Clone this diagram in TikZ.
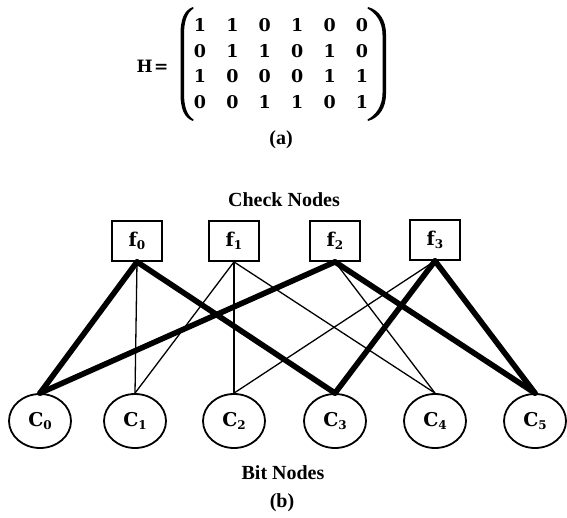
\documentclass[tikz,border=0pt]{standalone}
\usepackage{fontspec}
\setmainfont{Liberation Serif}
\newfontfamily\mathlike{DejaVu Serif}
\usetikzlibrary{shapes.geometric,matrix}
\newcommand\lowidx[1]{\raisebox{-2.5pt}{\fontsize{12}{12}\selectfont #1}}
\begin{document}
\begin{tikzpicture}[x=1pt,y=-1pt,
  lbl/.style={font=\fontsize{20}{24}\selectfont\bfseries, inner sep=0pt},
  checkbox/.style={draw, line width=1.8pt, minimum width=50pt, minimum height=40pt, inner sep=0pt, font=\mathlike\fontsize{19}{24}\selectfont\bfseries},
  bitnode/.style={draw, ellipse, line width=1.8pt, minimum width=62pt, minimum height=54pt, inner sep=0pt, font=\mathlike\fontsize{19}{24}\selectfont\bfseries},
  thinedge/.style={line width=1.3pt},
  thickedge/.style={line width=5.6pt, line cap=round},
  paren/.style={fill=black}
]
\fill[white] (0,0) rectangle (567,518);
\useasboundingbox (0,0) rectangle (567,518);

% parity-check matrix
\node[lbl, font=\mathlike\fontsize{17}{20}\selectfont\bfseries] (H) at (152.5,66) {H{\kern1.5pt}=};
\matrix (m) [matrix of nodes, inner sep=0pt, column sep=0pt, row sep=0pt,
  nodes={font=\mathlike\fontsize{17.5}{20}\selectfont\bfseries, minimum width=32.4pt, minimum height=25.7pt, inner sep=0pt, anchor=center}]
  at (281,63.5) {
  1 & 1 & 0 & 1 & 0 & 0 \\
  0 & 1 & 1 & 0 & 1 & 0 \\
  1 & 0 & 0 & 0 & 1 & 1 \\
  0 & 0 & 1 & 1 & 0 & 1 \\
};
\fill[paren] (193,7) .. controls (184,10) and (180.5,20) .. (180.5,34) -- (180.5,94)
  .. controls (180.5,108) and (184,118) .. (193,121) -- (193.5,119.5)
  .. controls (186.5,115) and (184,106) .. (184,93) -- (184,35)
  .. controls (184,22) and (186.5,13) .. (193.5,8.5) -- cycle;
\fill[paren] (368,7) .. controls (379,10) and (386,20) .. (386,34) -- (386,94)
  .. controls (386,108) and (379,118) .. (368,121) -- (367.5,119.5)
  .. controls (376,115) and (382.5,106) .. (382.5,93) -- (382.5,35)
  .. controls (382.5,22) and (376,13) .. (367.5,8.5) -- cycle;
\node[lbl] (capa) at (281,140) {(a)};

% Tanner graph
\node[lbl] (checklbl) at (284,200) {Check Nodes};
\node[checkbox] (f0) at (137,241) {f\lowidx{0}};
\node[checkbox] (f1) at (234,241) {f\lowidx{1}};
\node[checkbox] (f2) at (335,241) {f\lowidx{2}};
\node[checkbox] (f3) at (435,240) {f\lowidx{3}};

\node[bitnode] (c0) at (40,421) {C\lowidx{0}};
\node[bitnode] (c1) at (135,421) {C\lowidx{1}};
\node[bitnode] (c2) at (234,421) {C\lowidx{2}};
\node[bitnode] (c3) at (335,421) {C\lowidx{3}};
\node[bitnode] (c4) at (435,421) {C\lowidx{4}};
\node[bitnode] (c5) at (535,421) {C\lowidx{5}};

\node[lbl] (bitlbl) at (283,473) {Bit Nodes};
\node[lbl] (capb) at (282,503) {(b)};

% thin edges
\draw[thinedge] (f0.south) -- (c1.north);
\draw[thinedge] (f1.south) -- (c1.north);
\draw[thinedge] (f1.south) -- (c2.north);
\draw[thinedge] (f1.south) -- (c4.north);
\draw[thinedge] (f2.south) -- (c4.north);
\draw[thinedge] (f3.south) -- (c2.north);
% thick edges (6-cycle)
\draw[thickedge] (f0.south) -- (c0.north);
\draw[thickedge] (f0.south) -- (c3.north);
\draw[thickedge] (f2.south) -- (c0.north);
\draw[thickedge] (f2.south) -- (c5.north);
\draw[thickedge] (f3.south) -- (c3.north);
\draw[thickedge] (f3.south) -- (c5.north);
\end{tikzpicture}
\end{document}
